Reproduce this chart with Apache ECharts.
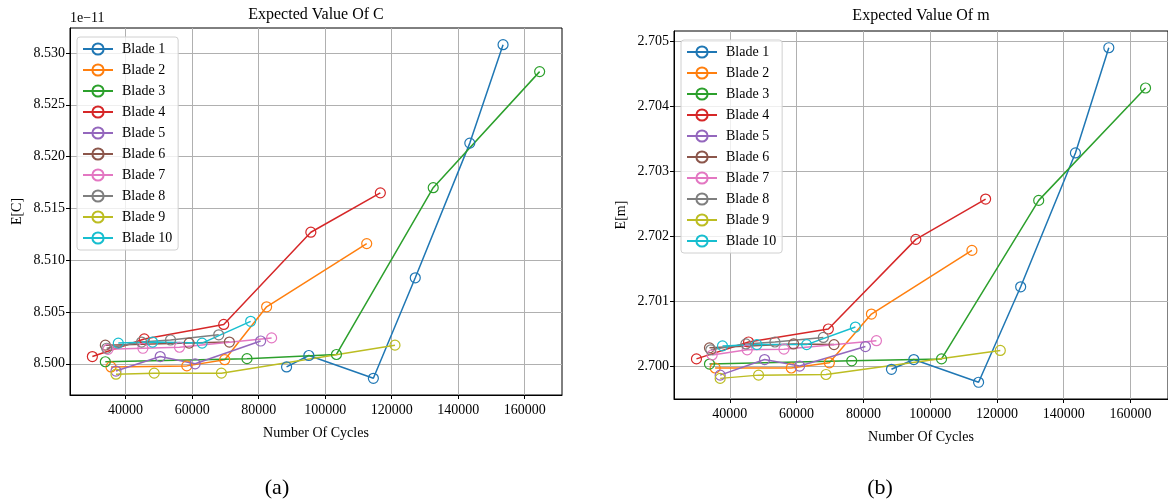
<!DOCTYPE html>
<html>
<head>
<meta charset="utf-8">
<script src="https://cdn.jsdelivr.net/npm/echarts@6/dist/echarts.min.js"></script>
<style>
  html, body { margin: 0; padding: 0; background: #fff; }
  #chart { width: 1168px; height: 504px; }
</style>
</head>
<body>
<div id="chart"></div>
<script>
// Blade names and the tab10 palette
const bladeNames = ['Blade 1', 'Blade 2', 'Blade 3', 'Blade 4', 'Blade 5',
                    'Blade 6', 'Blade 7', 'Blade 8', 'Blade 9', 'Blade 10'];
const bladeColors = ['#1f77b4', '#ff7f0e', '#2ca02c', '#d62728', '#9467bd',
                     '#8c564b', '#e377c2', '#7f7f7f', '#bcbd22', '#17becf'];

// Inspection cycles for each blade
const cycles1  = [88400, 95100, 114500, 127100, 143500, 153500];
const cycles2  = [35600, 58400, 69800, 82400, 112500];
const cycles3  = [33900, 76500, 103400, 132500, 164500];
const cycles4  = [30000, 45600, 69500, 95700, 116600];
const cycles5  = [37100, 50400, 60900, 80600];
const cycles6  = [33900, 59100, 71200];
const cycles7  = [34700, 45200, 56200, 83900];
const cycles8  = [34300, 44800, 53500, 68000];
const cycles9  = [37100, 48600, 68800, 121000];
const cycles10 = [37800, 48100, 63000, 77600];

// Expected value of C (units of 1e-11)
const expC1  = [8.4997, 8.5008, 8.4986, 8.5083, 8.5213, 8.5308];
const expC2  = [8.4997, 8.4998, 8.5004, 8.5055, 8.5116];
const expC3  = [8.5002, 8.5005, 8.5009, 8.5170, 8.5282];
const expC4  = [8.5007, 8.5024, 8.5038, 8.5127, 8.5165];
const expC5  = [8.4993, 8.5007, 8.5000, 8.5022];
const expC6  = [8.5018, 8.5020, 8.5021];
const expC7  = [8.5014, 8.5015, 8.5016, 8.5025];
const expC8  = [8.5015, 8.5021, 8.5023, 8.5028];
const expC9  = [8.4990, 8.4991, 8.4991, 8.5018];
const expC10 = [8.5020, 8.5021, 8.5020, 8.5041];

// Expected value of m
const expM1  = [2.69995, 2.70010, 2.69975, 2.70122, 2.70328, 2.70490];
const expM2  = [2.69997, 2.69997, 2.70005, 2.70080, 2.70178];
const expM3  = [2.70003, 2.70008, 2.70011, 2.70255, 2.70428];
const expM4  = [2.70011, 2.70037, 2.70057, 2.70195, 2.70257];
const expM5  = [2.69986, 2.70010, 2.70000, 2.70030];
const expM6  = [2.70028, 2.70034, 2.70033];
const expM7  = [2.70017, 2.70025, 2.70026, 2.70039];
const expM8  = [2.70025, 2.70034, 2.70037, 2.70044];
const expM9  = [2.69981, 2.69986, 2.69987, 2.70024];
const expM10 = [2.70031, 2.70033, 2.70033, 2.70060];

// Tick positions
const cycleTicks = [40000, 60000, 80000, 100000, 120000, 140000, 160000];
const cTicks = [8.500, 8.505, 8.510, 8.515, 8.520, 8.525, 8.530];
const mTicks = [2.700, 2.701, 2.702, 2.703, 2.704, 2.705];

const cyclesAll = [cycles1, cycles2, cycles3, cycles4, cycles5, cycles6, cycles7, cycles8, cycles9, cycles10];
const expCAll = [expC1, expC2, expC3, expC4, expC5, expC6, expC7, expC8, expC9, expC10];
const expMAll = [expM1, expM2, expM3, expM4, expM5, expM6, expM7, expM8, expM9, expM10];

// Data range padded by 5% on each side
function paddedRange(arrays) {
  const all = arrays.flat();
  const lo = Math.min(...all), hi = Math.max(...all);
  const pad = (hi - lo) * 0.05;
  return [lo - pad, hi + pad];
}
const xRange = paddedRange(cyclesAll);
const cRange = paddedRange(expCAll);
const mRange = paddedRange(expMAll);

const FONT = '"Liberation Serif", "DejaVu Serif", serif';

function xAxisFor(gridIndex) {
  return {
    type: 'value', gridIndex,
    min: xRange[0], max: xRange[1],
    name: 'Number Of Cycles', nameLocation: 'middle', nameGap: 31,
    nameTextStyle: { fontFamily: FONT, fontSize: 14, color: '#000' },
    axisLine: { show: true, onZero: false, lineStyle: { color: '#000', width: 1 } },
    axisTick: { show: true, length: 4, customValues: cycleTicks, lineStyle: { color: '#000' } },
    axisLabel: { customValues: cycleTicks, color: '#000', fontFamily: FONT, fontSize: 14, margin: 8,
                 formatter: v => String(Math.round(v)) },
    splitLine: { show: true, lineStyle: { color: '#b0b0b0', width: 1 } }
  };
}
function yAxisFor(gridIndex, range, ticks, name) {
  return {
    type: 'value', gridIndex,
    min: range[0], max: range[1],
    name, nameLocation: 'middle', nameGap: 46, nameRotate: 90,
    nameTextStyle: { fontFamily: FONT, fontSize: 14, color: '#000' },
    axisLine: { show: true, onZero: false, lineStyle: { color: '#000', width: 1 } },
    axisTick: { show: true, length: 4, customValues: ticks, lineStyle: { color: '#000' } },
    axisLabel: { customValues: ticks, color: '#000', fontFamily: FONT, fontSize: 14, margin: 5,
                 formatter: v => v.toFixed(3) },
    splitLine: { show: true, lineStyle: { color: '#b0b0b0', width: 1 } }
  };
}

function seriesFor(axisIndex, values) {
  return bladeNames.map((name, i) => ({
    name, type: 'line',
    xAxisIndex: axisIndex, yAxisIndex: axisIndex,
    data: cyclesAll[i].map((c, j) => [c, values[i][j]]),
    symbol: 'circle', symbolSize: 10, showSymbol: true,
    itemStyle: { color: 'rgba(255,255,255,0)', borderColor: bladeColors[i], borderWidth: 1.2 },
    lineStyle: { color: bladeColors[i], width: 1.5 },
    emphasis: { disabled: true },
    clip: false,
    z: 3
  }));
}

function legendAt(left, top) {
  return {
    orient: 'vertical', left, top,
    data: bladeNames,
    itemWidth: 30, itemHeight: 14, itemGap: 7,
    padding: [5, 6, 5, 5],
    backgroundColor: 'rgba(255,255,255,0.8)',
    borderColor: '#d0d0d0', borderWidth: 1, borderRadius: 3,
    textStyle: { fontFamily: FONT, fontSize: 14, color: '#000', padding: [0, 0, 0, 4] },
    selectedMode: false
  };
}

function label(text, x, y, size, align) {
  return {
    type: 'text', x, y, z: 10,
    style: { text, fontFamily: FONT, fontSize: size, fill: '#000',
             textAlign: align || 'center', textVerticalAlign: 'middle' }
  };
}

const chart = echarts.init(document.getElementById('chart'), null, { renderer: 'canvas' });
chart.setOption({
  animation: false,
  backgroundColor: '#fff',
  grid: [
    { left: 70, top: 28, width: 492, height: 367, show: true, borderColor: '#000', borderWidth: 1, backgroundColor: 'transparent' },
    { left: 674, top: 31, width: 498, height: 368, show: true, borderColor: '#000', borderWidth: 1, backgroundColor: 'transparent' }
  ],
  xAxis: [xAxisFor(0), xAxisFor(1)],
  yAxis: [yAxisFor(0, cRange, cTicks, 'E[C]'), yAxisFor(1, mRange, mTicks, 'E[m]')],
  legend: [legendAt(77, 37), legendAt(681, 40)],
  series: [...seriesFor(0, expCAll), ...seriesFor(1, expMAll)],
  graphic: [
    label('Expected Value Of C', 316, 15, 16),
    label('Expected Value Of m', 921, 16, 16),
    label('1e\u221211', 70, 18, 14, 'left'),
    label('(a)', 277, 488, 22),
    label('(b)', 880, 488, 22)
  ]
});
</script>
</body>
</html>
